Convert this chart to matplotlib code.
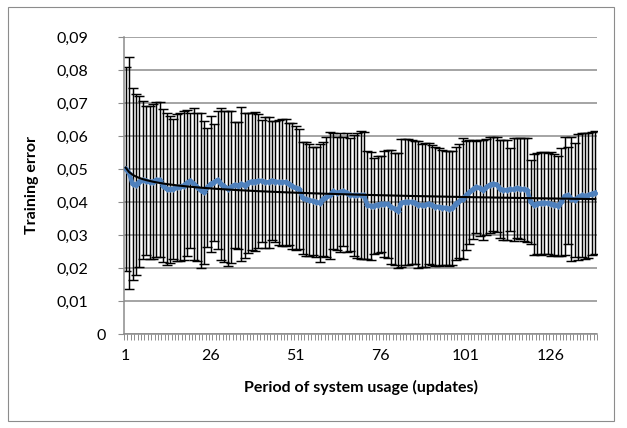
import matplotlib.pyplot as plt
import numpy as np
from matplotlib.patches import Rectangle
from matplotlib.transforms import ScaledTranslation

plt.rcParams['font.family'] = ['Lato', 'DejaVu Sans']

# mean training error per update (blue line)
mean = [
    0.0500, 0.0488, 0.0455, 0.0452, 0.0462, 0.0467, 0.0465, 0.0460, 0.0462, 0.0467,
    0.0467, 0.0450, 0.0440, 0.0438, 0.0440, 0.0444, 0.0446, 0.0450, 0.0458, 0.0465,
    0.0455, 0.0445, 0.0435, 0.0429, 0.0445, 0.0455, 0.0460, 0.0467, 0.0455, 0.0447,
    0.0440, 0.0446, 0.0452, 0.0450, 0.0455, 0.0450, 0.0458, 0.0462, 0.0462, 0.0464,
    0.0464, 0.0460, 0.0460, 0.0465, 0.0462, 0.0460, 0.0460, 0.0460, 0.0455, 0.0448,
    0.0442, 0.0440, 0.0412, 0.0408, 0.0405, 0.0403, 0.0400, 0.0397, 0.0410, 0.0415,
    0.0420, 0.0433, 0.0427, 0.0430, 0.0433, 0.0428, 0.0422, 0.0420, 0.0420, 0.0421,
    0.0420, 0.0391, 0.0388, 0.0388, 0.0392, 0.0394, 0.0394, 0.0394, 0.0385, 0.0380,
    0.0374, 0.0397, 0.0400, 0.0400, 0.0400, 0.0398, 0.0392, 0.0390, 0.0390, 0.0395,
    0.0390, 0.0386, 0.0385, 0.0383, 0.0382, 0.0380, 0.0382, 0.0395, 0.0402, 0.0410,
    0.0420, 0.0430, 0.0438, 0.0446, 0.0442, 0.0436, 0.0445, 0.0452, 0.0455, 0.0453,
    0.0440, 0.0436, 0.0436, 0.0438, 0.0438, 0.0442, 0.0440, 0.0438, 0.0436, 0.0400,
    0.0392, 0.0395, 0.0396, 0.0398, 0.0396, 0.0394, 0.0392, 0.0388, 0.0400, 0.0418,
    0.0420, 0.0410, 0.0406, 0.0415, 0.0420, 0.0418, 0.0420, 0.0425, 0.0428,
]

# top of the error bar per update
upper = [
    0.0808, 0.0840, 0.0746, 0.0726, 0.0721, 0.0706, 0.0692, 0.0692, 0.0696, 0.0702,
    0.0702, 0.0682, 0.0671, 0.0660, 0.0653, 0.0668, 0.0671, 0.0675, 0.0680, 0.0670,
    0.0685, 0.0670, 0.0670, 0.0645, 0.0625, 0.0662, 0.0637, 0.0677, 0.0685, 0.0677,
    0.0675, 0.0677, 0.0642, 0.0642, 0.0689, 0.0669, 0.0670, 0.0670, 0.0673, 0.0666,
    0.0650, 0.0658, 0.0658, 0.0646, 0.0646, 0.0650, 0.0653, 0.0653, 0.0640, 0.0638,
    0.0629, 0.0622, 0.0581, 0.0581, 0.0575, 0.0566, 0.0566, 0.0576, 0.0583, 0.0596,
    0.0613, 0.0608, 0.0598, 0.0610, 0.0598, 0.0608, 0.0593, 0.0603, 0.0610, 0.0616,
    0.0612, 0.0555, 0.0552, 0.0533, 0.0540, 0.0540, 0.0555, 0.0557, 0.0557, 0.0550,
    0.0548, 0.0590, 0.0590, 0.0590, 0.0587, 0.0585, 0.0585, 0.0576, 0.0578, 0.0578,
    0.0572, 0.0567, 0.0563, 0.0558, 0.0555, 0.0555, 0.0555, 0.0567, 0.0575, 0.0593,
    0.0585, 0.0588, 0.0588, 0.0585, 0.0588, 0.0588, 0.0590, 0.0597, 0.0597, 0.0597,
    0.0588, 0.0588, 0.0588, 0.0564, 0.0593, 0.0593, 0.0593, 0.0593, 0.0593, 0.0527,
    0.0545, 0.0548, 0.0553, 0.0553, 0.0550, 0.0553, 0.0545, 0.0540, 0.0564, 0.0597,
    0.0568, 0.0598, 0.0580, 0.0605, 0.0608, 0.0608, 0.0610, 0.0612, 0.0614,
]

yticks = [0, 0.01, 0.02, 0.03, 0.04, 0.05, 0.06, 0.07, 0.08, 0.09]
ytick_labels = ['0', '0,01', '0,02', '0,03', '0,04', '0,05', '0,06', '0,07', '0,08', '0,09']
xtick_pos = [1, 26, 51, 76, 101, 126]

mean = np.array(mean)
err = np.array(upper) - mean
x = np.arange(1, len(mean) + 1)

fig = plt.figure(figsize=(6.27, 4.28), dpi=100)
ax = fig.add_axes([124 / 627, 1 - 334 / 428, (597 - 124) / 627, (334 - 37) / 428])

# chart border
fig.patches.append(Rectangle((8 / 627, 7 / 428), 606 / 627, 414 / 428,
                             transform=fig.transFigure, fill=False,
                             edgecolor='#8c8c8c', linewidth=0.8))

ax.errorbar(x, mean, yerr=err, fmt='none', ecolor='black', elinewidth=1.05,
            capsize=3.7, capthick=1.05, zorder=2)
ax.plot(x, mean, color='#4F81BD', lw=3.2, marker='D', markersize=3.5,
        markeredgewidth=0, zorder=3)

# logarithmic trend line, like Excel's
b, a = np.polyfit(np.log(x), mean, 1)
ax.plot(x, a + b * np.log(x), color='black', lw=1.5, zorder=4)

ax.set_xlim(0.5, len(mean) + 0.5)
ax.set_ylim(0, 0.09)
ax.set_yticks(yticks)
ax.set_yticklabels(ytick_labels)
ax.set_xticks(xtick_pos)
ax.set_xticks(np.arange(0.5, len(mean) + 1), minor=True)
ax.tick_params(axis='x', which='major', length=0, pad=11, labelsize=11.5)
ax.tick_params(axis='x', which='minor', length=4, color='#8c8c8c', width=0.7)
ax.tick_params(axis='y', length=4, color='#8c8c8c', labelsize=11.5, pad=22)

# the zero label sits closer to the axis in the original
ytl = ax.get_yticklabels()
ytl[0].set_transform(ytl[0].get_transform() + ScaledTranslation(18 / 100, 0, fig.dpi_scale_trans))

ax.grid(axis='y', color='#8c8c8c', lw=1.1)
ax.set_axisbelow(True)
for s in ['top', 'right']:
    ax.spines[s].set_visible(False)
for s in ['left', 'bottom']:
    ax.spines[s].set_color('#8c8c8c')
    ax.spines[s].set_linewidth(1.1)

ax.set_ylabel('Training error', fontsize=11.5, fontweight='bold', labelpad=12)
ax.set_xlabel('Period of system usage (updates)', fontsize=11.5,
              fontweight='bold', labelpad=12)

fig.savefig('out.png', dpi=100)
